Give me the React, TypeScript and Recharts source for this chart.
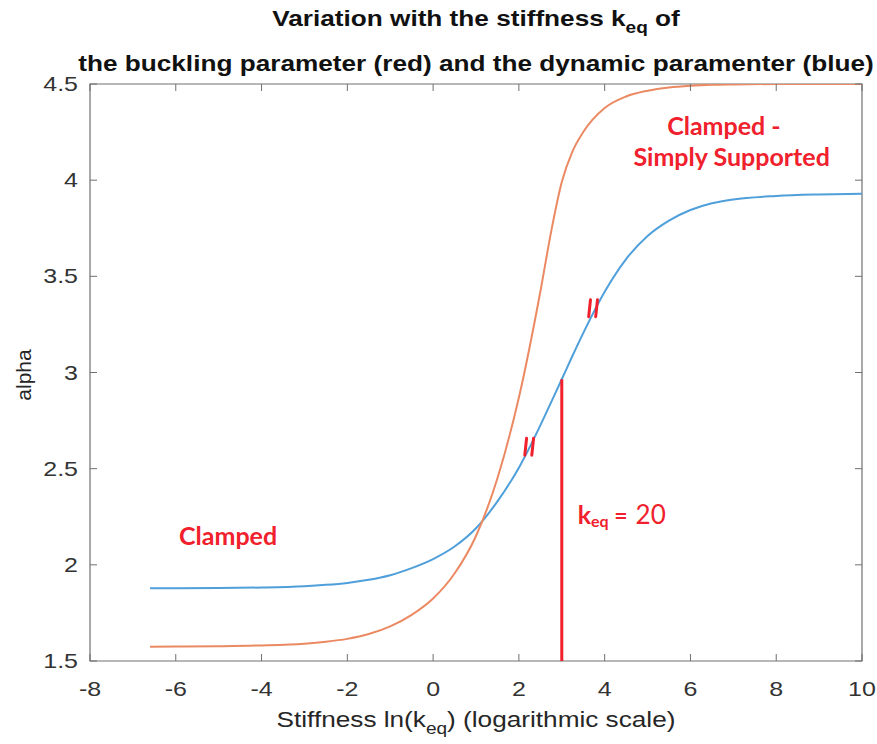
import React from 'react';
import {
  LineChart,
  Line,
  XAxis,
  YAxis,
  ReferenceArea,
  ReferenceLine,
  ReferenceDot,
  Customized,
} from 'recharts';

// ln(k_eq) sample points shared by both curves
const lnKeq = [
  -6.6, -6, -5, -4, -3, -2.5, -2, -1.5, -1, -0.5, 0, 0.5, 1, 1.5, 2, 2.5, 2.75, 3, 3.25, 3.5, 4, 4.5, 5, 5.5, 6, 6.5,
  7, 8, 9, 10,
];
// dynamic parameter (blue)
const dynamicParam = [
  1.878, 1.878, 1.879, 1.882, 1.889, 1.896, 1.906, 1.922, 1.946, 1.983, 2.03, 2.095, 2.19, 2.33, 2.505, 2.725, 2.845,
  2.965, 3.087, 3.205, 3.42, 3.59, 3.71, 3.79, 3.845, 3.88, 3.9, 3.918, 3.926, 3.93,
];
// buckling parameter (red)
const bucklingParam = [
  1.574, 1.575, 1.577, 1.581, 1.59, 1.6, 1.615, 1.64, 1.68, 1.74, 1.825, 1.955, 2.15, 2.45, 2.87, 3.42, 3.73, 3.99,
  4.15, 4.25, 4.375, 4.435, 4.465, 4.482, 4.491, 4.496, 4.498, 4.5, 4.5, 4.5,
];

const xTicks = [-8, -6, -4, -2, 0, 2, 4, 6, 8, 10];
const yTicks = [1.5, 2, 2.5, 3, 3.5, 4, 4.5];

// k_eq = 20 marker, ln(20) ~ 3
const keqLn = 3.0;
const keqAlpha = 2.965;
const breakMarks = [
  { x: 2.24, y: 2.614 },
  { x: 3.73, y: 3.334 },
];

const data = lnKeq.map((x, i) => ({ x, dynamic: dynamicParam[i], buckling: bucklingParam[i] }));

const W = 877;
const H = 744;
const PLOT = { left: 90, right: 862, top: 84, bottom: 661 };
const Y_AXIS_W = 60;
const X_AXIS_H = 60;
const MARGIN = {
  top: PLOT.top,
  right: W - PLOT.right,
  left: PLOT.left - Y_AXIS_W,
  bottom: H - PLOT.bottom - X_AXIS_H,
};

const SX = 1.19; // the source figure is stretched sideways
const AXIS_FONT = '"Liberation Sans", Arial, sans-serif';
const NOTE_FONT = 'Lato, "Open Sans", sans-serif';
const BOX = '#707070';
const TEXT = '#333333';
const NOTE_RED = '#f0202c';
const BLUE = '#4f9fda';
const ORANGE = '#eb8a62';

function XTick(props: any) {
  const { x, y, payload } = props;
  return (
    <g>
      <line x1={x} x2={x} y1={y} y2={y - 7} stroke={BOX} />
      <line x1={x} x2={x} y1={PLOT.top} y2={PLOT.top + 7} stroke={BOX} />
      <text
        transform={`translate(${x},${y + 35}) scale(${SX},1)`}
        textAnchor="middle"
        fontFamily={AXIS_FONT}
        fontSize={21}
        fill={TEXT}
      >
        {payload.value}
      </text>
    </g>
  );
}

function YTick(props: any) {
  const { x, y, payload } = props;
  return (
    <g>
      <line x1={x} x2={x + 7} y1={y} y2={y} stroke={BOX} />
      <line x1={PLOT.right} x2={PLOT.right - 7} y1={y} y2={y} stroke={BOX} />
      <text
        transform={`translate(${x - 12},${y + 7}) scale(${SX},1)`}
        textAnchor="end"
        fontFamily={AXIS_FONT}
        fontSize={21}
        fill={TEXT}
      >
        {payload.value}
      </text>
    </g>
  );
}

function BreakMark(props: any) {
  const { cx, cy } = props;
  const across = (-84 * Math.PI) / 180;
  const half = 8.5;
  const gap = 3.5;
  return (
    <g>
      {[-gap, gap].map((o, i) => (
        <line
          key={i}
          x1={cx + o - half * Math.cos(across)}
          y1={cy - half * Math.sin(across)}
          x2={cx + o + half * Math.cos(across)}
          y2={cy + half * Math.sin(across)}
          stroke={NOTE_RED}
          strokeWidth={3}
          strokeLinecap="round"
        />
      ))}
    </g>
  );
}

function Note({ cx, cy, text }: any) {
  return (
    <text
      x={cx}
      y={cy}
      dy={8}
      textAnchor="middle"
      fontFamily={NOTE_FONT}
      fontWeight={700}
      fontSize={25}
      fill={NOTE_RED}
    >
      {text}
    </text>
  );
}

function KeqNote({ cx, cy }: any) {
  return (
    <text x={cx} y={cy} dy={9} fontFamily={NOTE_FONT} fill={NOTE_RED}>
      <tspan fontWeight={700} fontSize={25}>k</tspan>
      <tspan fontWeight={700} fontSize={16} dy={3}>eq</tspan>
      <tspan fontWeight={700} fontSize={23} dy={-3}> =</tspan>
      <tspan fontSize={26} dx={8}>20</tspan>
    </text>
  );
}

function Titles() {
  const cx = (PLOT.left + PLOT.right) / 2;
  return (
    <g fontFamily={AXIS_FONT} fill="#111">
      <text transform={`translate(${cx},26) scale(${SX},1)`} textAnchor="middle" fontWeight={700} fontSize={22}>
        Variation with the stiffness k
        <tspan fontSize={16} dy={7}>eq</tspan>
        <tspan dy={-7}> of</tspan>
      </text>
      <text transform={`translate(${cx},71) scale(${SX},1)`} textAnchor="middle" fontWeight={700} fontSize={22}>
        the buckling parameter (red) and the dynamic paramenter (blue)
      </text>
      <text
        transform={`translate(${cx},727) scale(${SX},1)`}
        textAnchor="middle"
        fontSize={22}
        fill="#262626"
      >
        Stiffness ln(k
        <tspan fontSize={16} dy={7}>eq</tspan>
        <tspan dy={-7}>) (logarithmic scale)</tspan>
      </text>
      <text transform="translate(31,375) rotate(-90)" textAnchor="middle" fontSize={21} fill="#262626">
        alpha
      </text>
    </g>
  );
}

export default function App() {
  return (
    <div style={{ position: 'absolute', left: 0, top: 0, width: W, height: H, background: '#fff' }}>
      <LineChart width={W} height={H} data={data} margin={MARGIN}>
        <XAxis
          dataKey="x"
          type="number"
          domain={[-8, 10]}
          ticks={xTicks}
          interval={0}
          allowDataOverflow
          axisLine={false}
          tickLine={false}
          tickSize={0}
          tickMargin={0}
          height={X_AXIS_H}
          tick={<XTick />}
        />
        <YAxis
          type="number"
          domain={[1.5, 4.5]}
          ticks={yTicks}
          interval={0}
          allowDataOverflow
          axisLine={false}
          tickLine={false}
          tickSize={0}
          tickMargin={0}
          width={Y_AXIS_W}
          tick={<YTick />}
        />
        <ReferenceArea x1={-8} x2={10} y1={1.5} y2={4.5} fill="none" stroke={BOX} strokeWidth={1.2} />
        <Line
          type="monotone"
          dataKey="dynamic"
          stroke={BLUE}
          strokeWidth={2}
          dot={false}
          isAnimationActive={false}
        />
        <Line
          type="monotone"
          dataKey="buckling"
          stroke={ORANGE}
          strokeWidth={2}
          dot={false}
          isAnimationActive={false}
        />
        <ReferenceLine
          segment={[
            { x: keqLn, y: 1.5 },
            { x: keqLn, y: keqAlpha },
          ]}
          stroke={NOTE_RED}
          strokeWidth={3}
        />
        {breakMarks.map((m, i) => (
          <ReferenceDot key={i} x={m.x} y={m.y} r={0} shape={(p: any) => <BreakMark {...p} />} />
        ))}
        <ReferenceDot x={-4.78} y={2.144} r={0} shape={(p: any) => <Note {...p} text="Clamped" />} />
        <ReferenceDot x={6.78} y={4.276} r={0} shape={(p: any) => <Note {...p} text="Clamped -" />} />
        <ReferenceDot x={6.96} y={4.115} r={0} shape={(p: any) => <Note {...p} text="Simply Supported" />} />
        <ReferenceDot x={3.37} y={2.259} r={0} shape={(p: any) => <KeqNote {...p} />} />
        <Customized component={<Titles />} />
      </LineChart>
    </div>
  );
}
